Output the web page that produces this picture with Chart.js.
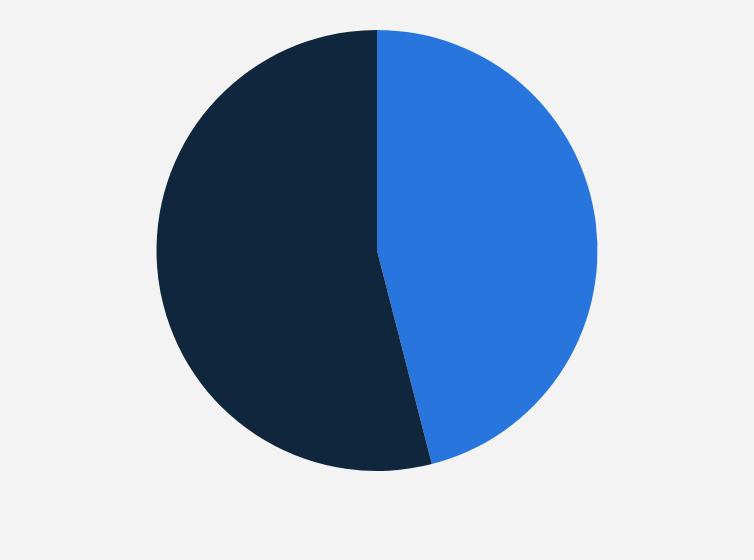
<!DOCTYPE html>
<html>
<head>
<meta charset="utf-8">
<script src="https://cdn.jsdelivr.net/npm/chart.js@4"></script>
<style>
  html, body { margin: 0; padding: 0; background: #f3f3f3; }
  #wrap { width: 754px; height: 560px; }
</style>
</head>
<body>
<div id="wrap"><canvas id="pie-chart"></canvas></div>
<script>
const labels = ["Yes", "No"];
const shares = [46, 54];
const sliceColors = ["#2876dd", "#0f263c"];

const ctx = document.getElementById("pie-chart").getContext("2d");
const pieChart = new Chart(ctx, {
  type: "pie",
  data: {
    labels: labels,
    datasets: [
      {
        data: shares,
        backgroundColor: sliceColors,
        borderWidth: 0,
      },
    ],
  },
  options: {
    responsive: true,
    maintainAspectRatio: false,
    animation: false,
    layout: { padding: { top: 30, bottom: 89, left: 0, right: 0 } },
    plugins: {
      legend: { display: false },
      tooltip: { enabled: false },
    },
  },
});
</script>
</body>
</html>
